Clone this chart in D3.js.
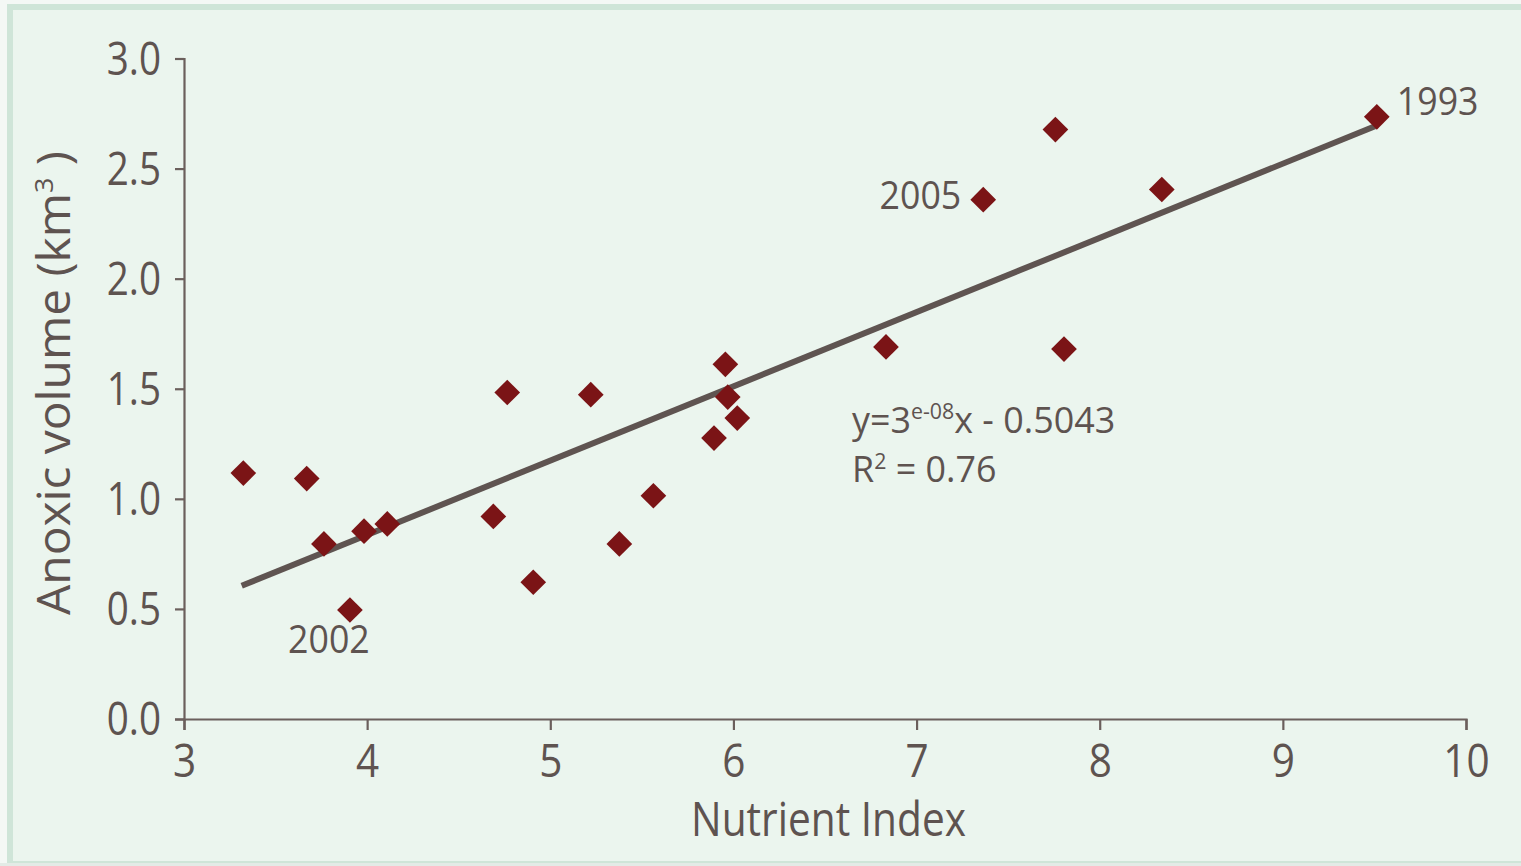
<!DOCTYPE html>
<html>
<head>
<meta charset="utf-8">
<script src="https://cdn.jsdelivr.net/npm/d3@7"></script>
<style>
  body { margin: 0; background: #f4f8f5; }
  svg { display: block; font-family: "Open Sans", sans-serif; }
</style>
</head>
<body>
<div id="container"></div>
<script>
/* CONSTANTS AND GLOBALS */
const width = 1521;
const height = 866;
const textColor = "#5e5350";
const squeeze = 0.88; // reference tick font is narrower than Open Sans

/* DATA */
const nutrientIndex = [3.324, 3.670, 3.764, 3.906, 3.983, 4.110, 4.689, 4.765, 4.907, 5.221, 5.377,
  5.563, 5.894, 5.956, 5.969, 6.021, 6.833, 7.364, 7.758, 7.805, 8.339, 9.513];
const anoxicVolume = [1.117, 1.092, 0.795, 0.495, 0.853, 0.886, 0.920, 1.483, 0.621, 1.473, 0.795,
  1.014, 1.276, 1.611, 1.462, 1.367, 1.690, 2.359, 2.677, 1.680, 2.405, 2.735];
const yearLabels = ["", "", "", "2002", "", "", "", "", "", "", "",
  "", "", "", "", "", "", "2005", "", "", "", "1993"];
const trendX = [3.315, 9.503];
const trendY = [0.605, 2.692];
const xTicks = [3, 4, 5, 6, 7, 8, 9, 10];
const yTicks = [0, 0.5, 1.0, 1.5, 2.0, 2.5, 3.0];

const points = nutrientIndex.map((x, i) => ({ x, y: anoxicVolume[i], year: yearLabels[i] }));

const svg = d3.select("#container").append("svg")
  .attr("width", width)
  .attr("height", height);

// panel
svg.append("rect")
  .attr("x", 10).attr("y", 7)
  .attr("width", width).attr("height", height - 9)
  .attr("fill", "#ebf5ee")
  .attr("stroke", "#cfe5d8")
  .attr("stroke-width", 6);
svg.append("line")
  .attr("x1", 0).attr("x2", width)
  .attr("y1", 864.5).attr("y2", 864.5)
  .attr("stroke", "#e3ebe6").attr("stroke-width", 3);

/* SCALES */
const xScale = d3.scaleLinear().domain([3, 10]).range([184, 1466]);
const yScale = d3.scaleLinear().domain([0, 3]).range([719, 58.5]);

const xAxis = d3.axisBottom(xScale).tickValues(xTicks).tickFormat(d3.format("d"))
  .tickSize(11).tickSizeOuter(11);
const yAxis = d3.axisLeft(yScale).tickValues(yTicks).tickFormat(d3.format(".1f"))
  .tickSize(9).tickSizeOuter(9);

const gx = svg.append("g")
  .attr("transform", `translate(0,${yScale(0)})`)
  .call(xAxis);
const gy = svg.append("g")
  .attr("transform", `translate(${xScale(3)},0)`)
  .call(yAxis);

[gx, gy].forEach(g => {
  g.select(".domain").attr("stroke", "#6b5f5c").attr("stroke-width", 2.2);
  g.selectAll(".tick line").attr("stroke", "#6b5f5c").attr("stroke-width", 2.2);
  g.selectAll(".tick text")
    .attr("fill", textColor)
    .style("font-family", "'Open Sans', sans-serif")
    .style("font-size", "46px");
});
gx.selectAll(".tick text").attr("y", 58).attr("dy", 0)
  .attr("transform", `scale(${squeeze},1)`);
gy.selectAll(".tick text").attr("x", -23 / 0.84).attr("dy", "0.34em")
  .attr("transform", "scale(0.84,1)");

/* TREND LINE */
svg.append("line")
  .attr("x1", xScale(trendX[0])).attr("y1", yScale(trendY[0]))
  .attr("x2", xScale(trendX[1])).attr("y2", yScale(trendY[1]))
  .attr("stroke", "#5f5451")
  .attr("stroke-width", 6);

/* POINTS */
svg.selectAll("path.pt")
  .data(points)
  .join("path")
  .attr("class", "pt")
  .attr("d", d3.symbol(d3.symbolSquare, 330))
  .attr("transform", d => `translate(${xScale(d.x)},${yScale(d.y)}) rotate(45)`)
  .attr("fill", "#7b1416");

/* YEAR LABELS */
const labelPlace = {
  "1993": { dx: 20, dy: -2, anchor: "start" },
  "2005": { dx: -22, dy: 9, anchor: "end" },
  "2002": { dx: -21, dy: 43, anchor: "middle" }
};
svg.selectAll("text.year")
  .data(points.filter(d => d.year))
  .join("text")
  .attr("class", "year")
  .attr("transform", d => `translate(${xScale(d.x) + labelPlace[d.year].dx},${yScale(d.y) + labelPlace[d.year].dy}) scale(0.94,1)`)
  .attr("text-anchor", d => labelPlace[d.year].anchor)
  .attr("fill", textColor)
  .style("font-size", "38px")
  .text(d => d.year);

/* EQUATION */
const eq = svg.append("g")
  .attr("transform", "translate(852,0) scale(0.97,1)")
  .attr("fill", textColor)
  .style("font-size", "37px");
const eq1 = eq.append("text").attr("y", 433);
eq1.append("tspan").text("y=3");
eq1.append("tspan").attr("dy", -14).style("font-size", "22px").text("e-08");
eq1.append("tspan").attr("dy", 14).text("x - 0.5043");
const eq2 = eq.append("text").attr("y", 482);
eq2.append("tspan").text("R");
eq2.append("tspan").attr("dy", -13).style("font-size", "22px").text("2");
eq2.append("tspan").attr("dy", 13).text(" = 0.76");

/* AXIS TITLES */
svg.append("text")
  .attr("transform", "translate(828.5,836) scale(0.865,1)")
  .attr("text-anchor", "middle")
  .attr("fill", textColor)
  .style("font-size", "47px")
  .text("Nutrient Index");

const yt = svg.append("text")
  .attr("transform", "translate(70,383) rotate(-90) scale(1.04,1)")
  .attr("text-anchor", "middle")
  .attr("fill", textColor)
  .style("font-size", "46px");
yt.append("tspan").text("Anoxic volume (km");
yt.append("tspan").attr("dy", -17).style("font-size", "26px").text("3");
yt.append("tspan").attr("dy", 17).text(" )");
</script>
</body>
</html>
